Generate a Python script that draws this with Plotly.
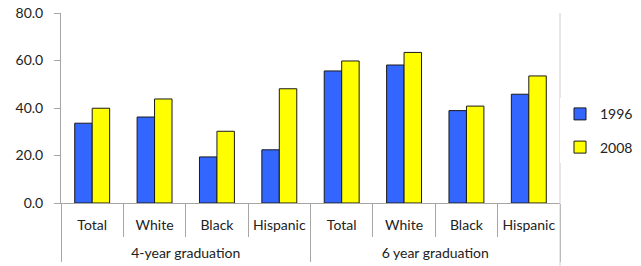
import plotly.graph_objects as go

groups = ["4-year graduation"] * 4 + ["6 year graduation"] * 4
categories = ["Total", "White", "Black", "Hispanic"] * 2
series_names = ["1996", "2008"]
values_1996 = [33.6, 36.2, 19.4, 22.4, 55.6, 58.1, 38.9, 45.8]
values_2008 = [39.9, 43.8, 30.2, 48.1, 59.8, 63.4, 40.8, 53.5]
y_ticks = [0, 20, 40, 60, 80]

colors = ["#3366FF", "#FFFF00"]
FONT = "Lato"
GREY = "#A6A6A6"

# group labels pushed down one line to sit below the category row
group_labels = ["<br>" + g for g in groups]

fig = go.Figure()
for name, vals, col in zip(series_names, [values_1996, values_2008], colors):
    fig.add_trace(go.Bar(
        x=[group_labels, categories], y=vals, name=name, legendgroup=name,
        marker=dict(color=col, line=dict(color="#1a1a1a", width=1)),
    ))

fig.update_layout(
    width=641, height=266,
    margin=dict(l=61, r=81, t=13, b=63, autoexpand=False),
    paper_bgcolor="white", plot_bgcolor="white",
    barmode="group", bargap=0.44, bargroupgap=0,
    font=dict(family=FONT, size=14, color="#222222"),
    legend=dict(x=1.0, y=0.38, yanchor="middle", xanchor="left",
                font=dict(family=FONT, size=14, color="#222222"),
                tracegroupgap=12, itemwidth=30),
    showlegend=True,
)
fig.update_yaxes(
    range=[0, 80], tickvals=y_ticks, tickformat=".1f",
    showline=True, linecolor=GREY, linewidth=1,
    ticks="outside", ticklen=6, tickcolor=GREY,
    showgrid=False, zeroline=False, automargin=False, ticklabelstandoff=8,
    tickfont=dict(family=FONT, size=14, color="#222222"),
)
fig.update_xaxes(
    showline=True, linecolor=GREY, linewidth=1,
    ticks="outside", ticklen=33, tickcolor=GREY, tickson="boundaries",
    showdividers=True, dividercolor=GREY, dividerwidth=1,
    showgrid=False, tickangle=0, automargin=False, ticklabelstandoff=9,
    tickfont=dict(family=FONT, size=14, color="#222222"),
)
fig.add_shape(type="line", xref="paper", yref="paper", x0=1, x1=1, y0=1, y1=-63/190,
              line=dict(color="#D0D0D0", width=1))

fig.write_html("out.html", post_script="document.body.style.margin='0';",
               config={"displayModeBar": False})
